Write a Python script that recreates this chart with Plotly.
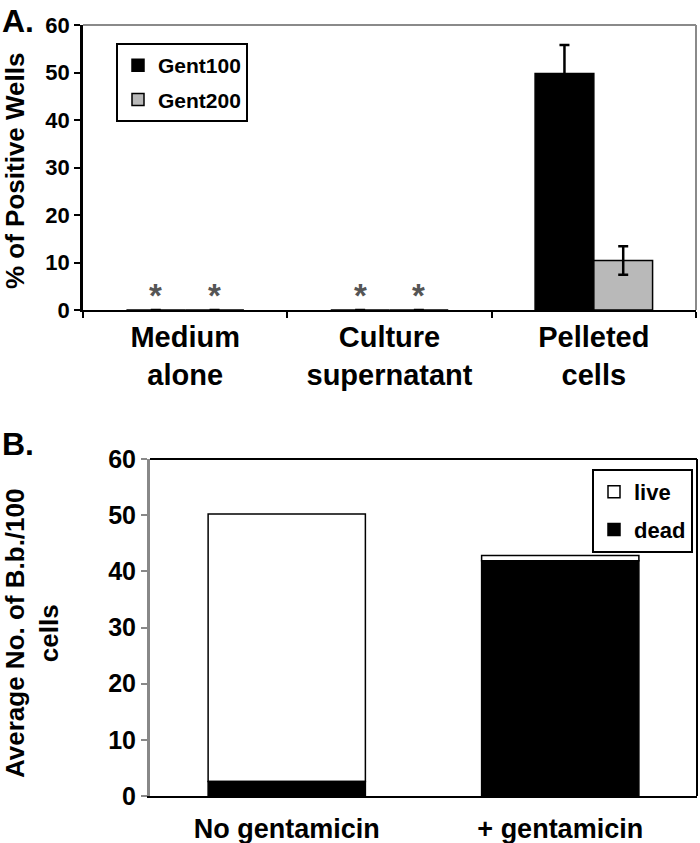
import plotly.graph_objects as go

# ---------------- data ----------------
cats_a = ["Medium<br>alone", "Culture<br>supernatant", "Pelleted<br>cells"]
gent100 = [0, 0, 49.8]
gent100_err = [0, 0, 6.0]
gent200 = [0, 0, 10.4]
gent200_err = [0, 0, 3.0]
star_cats = [0, 1]  # categories marked with *

cats_b = ["No gentamicin", "+ gentamicin"]
dead = [2.6, 41.9]
live = [47.6, 0.9]

ticks_y = [0, 10, 20, 30, 40, 50, 60]

FONT = "Liberation Sans, Arial, sans-serif"
W, H = 700, 843

def px_x(p):
    return p / W

def px_y(p):
    return 1 - p / H

fig = go.Figure()

# Panel A bars
fig.add_trace(go.Bar(
    x=cats_a, y=gent100, name="Gent100", offsetgroup="a1", legendgroup="g1",
    marker=dict(color="black", line=dict(color="black", width=1.5)),
    error_y=dict(type="data", array=gent100_err, color="black", thickness=2.5, width=5),
    xaxis="x", yaxis="y", legend="legend",
))
fig.add_trace(go.Bar(
    x=cats_a, y=gent200, name="Gent200", offsetgroup="a2", legendgroup="g2",
    marker=dict(color="#b9b9b9", line=dict(color="black", width=1.5)),
    error_y=dict(type="data", array=gent200_err, color="black", thickness=2.5, width=5),
    xaxis="x", yaxis="y", legend="legend",
))

# Panel B stacked bars (manual stacking with base)
fig.add_trace(go.Bar(
    x=cats_b, y=live, base=dead, name="live", offsetgroup="b", legendgroup="l1",
    marker=dict(color="white", line=dict(color="black", width=1.5)),
    xaxis="x2", yaxis="y2", legend="legend2",
))
fig.add_trace(go.Bar(
    x=cats_b, y=dead, name="dead", offsetgroup="b", legendgroup="l2",
    marker=dict(color="black", line=dict(color="black", width=1.5)),
    xaxis="x2", yaxis="y2", legend="legend2",
))

bold = dict(family=FONT, color="black", weight="bold")

annotations = []
# asterisks over zero bars
half = (1 - 0.425) / 4
for c in star_cats:
    for off in (-half, half):
        annotations.append(dict(
            x=c + off, y=0, xref="x", yref="y", text="*", showarrow=False,
            yanchor="bottom", yshift=-6,
            font=dict(family=FONT, size=33, color="#555", weight="bold"),
        ))

# axis titles & panel letters
annotations += [
    dict(x=px_x(15), y=px_y(171), xref="paper", yref="paper", text="% of Positive Wells",
         textangle=-90, showarrow=False, xanchor="center", yanchor="middle",
         font=dict(size=26, **bold)),
    dict(x=px_x(32), y=px_y(634), xref="paper", yref="paper",
         text="Average No. of B.b./100<br>cells", textangle=-90, showarrow=False,
         xanchor="center", yanchor="middle", font=dict(size=26, **bold)),
    dict(x=0, y=px_y(1), xref="paper", yref="paper", text="A.", showarrow=False,
         xanchor="left", yanchor="top", font=dict(size=32, **bold)),
    dict(x=0, y=px_y(424), xref="paper", yref="paper", text="B.", showarrow=False,
         xanchor="left", yanchor="top", font=dict(size=32, **bold)),
]

shapes = [
    # panel A frame: top & right gray
    dict(type="line", xref="x domain", yref="y domain", x0=0, x1=1, y0=1, y1=1,
         line=dict(color="#8a8a8a", width=2)),
    dict(type="line", xref="x domain", yref="y domain", x0=1, x1=1, y0=0, y1=1,
         line=dict(color="#8a8a8a", width=2)),
    # panel B frame: top & right black
    dict(type="line", xref="x2 domain", yref="y2 domain", x0=0, x1=1, y0=1, y1=1,
         line=dict(color="black", width=2)),
    dict(type="line", xref="x2 domain", yref="y2 domain", x0=1, x1=1, y0=0, y1=1,
         line=dict(color="black", width=2)),
]

fig.update_layout(
    width=W, height=H,
    margin=dict(l=0, r=0, t=0, b=0),
    paper_bgcolor="white", plot_bgcolor="white",
    barmode="group", bargap=0.425, bargroupgap=0,
    font=dict(family=FONT, color="black"),
    xaxis=dict(domain=[px_x(83), px_x(696)], anchor="y", type="category",
               tickson="boundaries", ticks="outside", ticklen=6, tickwidth=2,
               tickcolor="black", showline=True, linecolor="black", linewidth=2,
               tickfont=dict(size=29, **bold), showgrid=False, automargin=False,
               zeroline=False),
    yaxis=dict(domain=[px_y(310), px_y(25)], anchor="x", range=[0, 60],
               tickvals=ticks_y, ticks="outside", ticklen=6, tickwidth=2,
               tickcolor="black", showline=True, linecolor="black", linewidth=2.5,
               tickfont=dict(size=22, **bold), showgrid=False, zeroline=False,
               automargin=False),
    xaxis2=dict(domain=[px_x(150), px_x(697)], anchor="y2", type="category",
                ticks="", showline=True, linecolor="black", linewidth=2,
                tickfont=dict(size=27, **bold), showgrid=False, automargin=False,
                zeroline=False, ticklabelstandoff=8),
    yaxis2=dict(domain=[px_y(796), px_y(459)], anchor="x2", range=[0, 60],
                tickvals=ticks_y, ticks="outside", ticklen=6, tickwidth=2,
                tickcolor="#888", showline=True, linecolor="#888", linewidth=3,
                tickfont=dict(size=25, **bold), showgrid=False, zeroline=False,
                automargin=False),
    legend=dict(x=px_x(116), y=px_y(43), xanchor="left", yanchor="top",
                bordercolor="black", borderwidth=2, bgcolor="white",
                font=dict(size=21, **bold), tracegroupgap=4,
                traceorder="grouped", itemwidth=30),
    legend2=dict(x=px_x(592), y=px_y(469), xanchor="left", yanchor="top",
                 bordercolor="black", borderwidth=2, bgcolor="white",
                 font=dict(size=22, **bold), tracegroupgap=6,
                 traceorder="grouped", itemwidth=30),
    annotations=annotations,
    shapes=shapes,
    showlegend=True,
)

fig.write_html("out.html", config={"displayModeBar": False},
               post_script="document.body.style.margin='0px';")
